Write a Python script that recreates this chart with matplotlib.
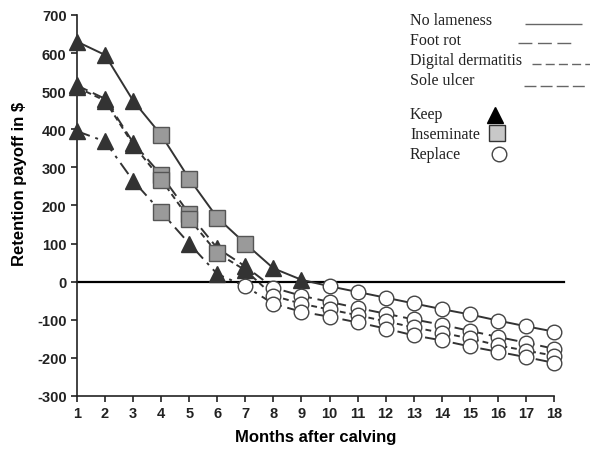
import matplotlib
matplotlib.use("Agg")
import matplotlib.pyplot as plt
from matplotlib.lines import Line2D

plt.rcParams["axes.unicode_minus"] = False

months = list(range(1, 19))
no_lameness = [630, 595, 475, 385, 270, 168, 100, 35, 5, -12, -27, -42, -57, -72, -86, -102, -117, -131]
foot_rot = [515, 480, 365, 280, 178, 88, 40, -16, -37, -53, -69, -84, -99, -113, -129, -145, -160, -176]
digital_derm = [510, 475, 360, 268, 165, 75, 30, -37, -58, -73, -88, -104, -120, -134, -149, -167, -181, -194]
sole_ulcer = [395, 368, 265, 183, 100, 20, -12, -58, -79, -92, -107, -123, -141, -154, -170, -184, -198, -213]

# decisions per month: K = keep, I = inseminate, R = replace
dec_nl = "KKKIIIIKKRRRRRRRRR"
dec_fr = "KKKIIKKRRRRRRRRRRR"
dec_dd = "KKKIIIKRRRRRRRRRRR"
dec_su = "KKKIKKRRRRRRRRRRRR"

series = [
    ("No lameness", no_lameness, dec_nl, (0, ())),
    ("Foot rot", foot_rot, dec_fr, (0, (6, 3))),
    ("Digital dermatitis", digital_derm, dec_dd, (0, (3, 2))),
    ("Sole ulcer", sole_ulcer, dec_su, (0, (7, 3, 1.5, 3))),
]
legend_dashes = [(0, ()), (0, (10, 4)), (0, (6.5, 3)), (0, (8.6, 3))]

yticks = list(range(-300, 701, 100))

lc = "#333333"
mstyle = {
    "K": dict(marker="^", markersize=11, markerfacecolor="#333333", markeredgecolor="#333333"),
    "I": dict(marker="s", markersize=11, markerfacecolor="#9a9a9a", markeredgecolor="#555555", markeredgewidth=1),
    "R": dict(marker="o", markersize=10.5, markerfacecolor="white", markeredgecolor="#444444", markeredgewidth=1),
}

fig = plt.figure(figsize=(5.9, 4.52), dpi=100)
ax = fig.add_axes([0.1305, 0.1217, 0.8085, 0.843])

for name, vals, dec, ls in series:
    ax.plot(months, vals, color=lc, lw=1.4, linestyle=ls, zorder=2, clip_on=False)
for name, vals, dec, ls in series:
    for code in "IKR":
        xs = [m for m, d in zip(months, dec) if d == code]
        ys = [v for v, d in zip(vals, dec) if d == code]
        ax.plot(xs, ys, linestyle="none", zorder=3, clip_on=False, **mstyle[code])

ax.plot([1, 18.35], [0, 0], color="black", lw=1.6, zorder=1, clip_on=False)

ax.set_xlim(1, 18)
ax.set_ylim(-300, 700)
ax.set_xticks(months)
ax.set_yticks(yticks)
for s in ["top", "right"]:
    ax.spines[s].set_visible(False)
for s in ["left", "bottom"]:
    ax.spines[s].set_linewidth(1.2)
    ax.spines[s].set_color("#222222")
ax.tick_params(direction="out", length=4, width=1.2, colors="#222222", labelsize=10.5)
for lab in ax.get_xticklabels() + ax.get_yticklabels():
    lab.set_fontweight("bold")
    lab.set_family("Liberation Sans")
ax.set_xlabel("Months after calving", fontsize=12, fontweight="bold", family="Liberation Sans", labelpad=6)
ax.set_ylabel("Retention payoff in $", fontsize=12, fontweight="bold", family="Liberation Sans")
ax.yaxis.set_label_coords(-0.104, 0.56)

# legend drawn as text in figure pixel coordinates
W, H = 590, 452
def fx(x): return x / W
def fy(y): return 1 - y / H

lfont = dict(family="Liberation Serif", fontsize=11.5, color="#222222", va="center", ha="left")
leg_rows = [("No lameness", 21, 25, 525, 582), ("Foot rot", 41, 44, 518, 576),
            ("Digital dermatitis", 61, 65, 532, 590), ("Sole ulcer", 81, 87, 524, 585)]
for (label, y, yl, x0, x1), ls in zip(leg_rows, legend_dashes):
    fig.text(fx(410), fy(y), label, **lfont)
    fig.add_artist(Line2D([fx(x0), fx(x1)], [fy(yl), fy(yl)], color="#666666", lw=1.0, linestyle=ls))

mk_rows = [("Keep", 115, 495, 116, "K"), ("Inseminate", 135, 497, 134, "I"), ("Replace", 155, 499, 155, "R")]
for label, y, xm, ym, code in mk_rows:
    fig.text(fx(410), fy(y), label, **lfont)
    st = dict(mstyle[code])
    if code == "K":
        st.update(markerfacecolor="black", markeredgecolor="black")
    if code == "I":
        st.update(markerfacecolor="#c8c8c8", markeredgecolor="#333333")
    fig.add_artist(Line2D([fx(xm)], [fy(ym)], linestyle="none", **st))

fig.savefig("out.png", dpi=100)
